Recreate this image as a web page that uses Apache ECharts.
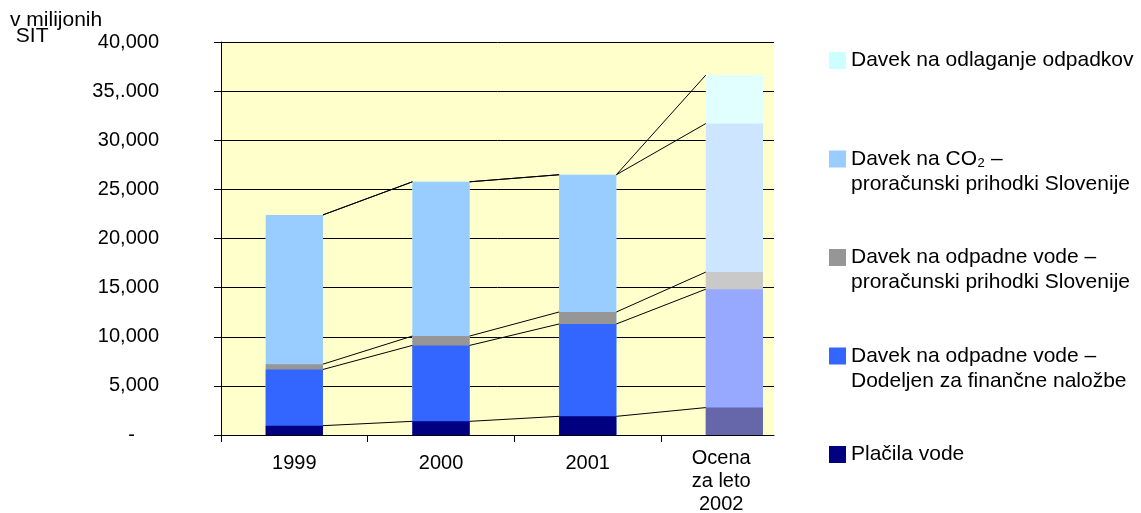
<!DOCTYPE html>
<html>
<head>
<meta charset="utf-8">
<script src="https://cdn.jsdelivr.net/npm/echarts@6/dist/echarts.min.js"></script>
<style>
  html, body { margin: 0; padding: 0; background: #fff; }
  #chart { width: 1141px; height: 513px; }
</style>
</head>
<body>
<div id="chart"></div>
<script>
// data (millions SIT)
const years = ['1999', '2000', '2001', 'Ocena\nza leto\n2002'];
const placilaVode = [950, 1390, 1900, 2790];
const odpadneFinancne = [5720, 7730, 9400, 12050];
const odpadneProracun = [540, 950, 1220, 1740];
const davekCO2 = [15190, 15700, 13970, 15120];
const odlaganje = [0, 0, 0, 4930];
const yTickLabels = ['-', '5,000', '10,000', '15,000', '20,000', '25,000', '30,000', '35,.000', '40,000'];
const seriesNames = [
  'Plačila vode',
  'Davek na odpadne vode –\nDodeljen za finančne naložbe',
  'Davek na odpadne vode –\nproračunski prihodki Slovenije',
  'Davek na CO₂ –\nproračunski prihodki Slovenije',
  'Davek na odlaganje odpadkov'
];

const FONT = 'Liberation Sans, Arial, sans-serif';
const colors = ['#000080', '#3366ff', '#969696', '#99ccff', '#ccffff'];
// the 2002 estimate is drawn with a lighter, dithered fill
const estimateColors = ['#6666aa', '#97a9ff', '#c9c9c9', '#cde5ff', '#e2ffff'];
const BAR_FRAC = 0.39;

const stackValues = [placilaVode, odpadneFinancne, odpadneProracun, davekCO2, odlaganje];

// running tops of every stack level
const tops = [];
let running = years.map(() => 0);
stackValues.forEach(vals => {
  running = running.map((r, i) => r + vals[i]);
  tops.push(running.slice());
});

// series lines between neighbouring columns
const half = BAR_FRAC / 2;
const connectorLines = [];
tops.forEach(level => {
  for (let i = 0; i < years.length - 1; i++) {
    connectorLines.push([
      { coord: [i + 0.5 + half, level[i]] },
      { coord: [i + 1.5 - half, level[i + 1]] }
    ]);
  }
});

// value x axis does not stack, so each level is a column from 0 to its
// running top, drawn tallest first and overlapped
const barSeries = [];
for (let k = stackValues.length - 1; k >= 0; k--) {
  barSeries.push({
    name: seriesNames[k],
    type: 'bar',
    barWidth: (BAR_FRAC * 100) + '%',
    barGap: '-100%',
    itemStyle: { color: colors[k] },
    data: tops[k].map((v, i) => {
      const item = { value: [i + 0.5, v] };
      if (i === years.length - 1) item.itemStyle = { color: estimateColors[k] };
      return item;
    })
  });
}

const chart = echarts.init(document.getElementById('chart'));
chart.setOption({
  animation: false,
  title: {
    text: 'v milijonih\n SIT',
    left: 10,
    top: 12,
    padding: 0,
    textStyle: { fontFamily: FONT, fontSize: 21, fontWeight: 'normal', lineHeight: 16, color: '#000' }
  },
  legend: {
    orient: 'vertical',
    left: 829,
    top: 23,
    padding: 0,
    itemGap: 23.5,
    itemWidth: 17,
    itemHeight: 17,
    icon: 'rect',
    selectedMode: false,
    data: seriesNames.slice().reverse(),
    formatter: name => name.indexOf('\n') >= 0 ? '\n' + name : '\n' + name + '\n',
    textStyle: { fontFamily: FONT, fontSize: 21, lineHeight: 25, color: '#000' }
  },
  grid: {
    left: 221,
    right: 367,
    top: 42,
    bottom: 78,
    outerBoundsMode: 'none',
    containLabel: false,
    show: true,
    backgroundColor: '#ffffcc',
    borderWidth: 0
  },
  xAxis: {
    type: 'value',
    min: 0,
    max: 3.77,
    axisLine: { show: true, lineStyle: { color: '#000' } },
    axisTick: { show: true, length: 7, customValues: [0, 1, 2, 3], lineStyle: { color: '#000' } },
    splitLine: { show: false },
    axisLabel: {
      customValues: [0.5, 1.5, 2.5, 3.41],
      formatter: v => {
        const s = years[Math.floor(v)];
        return s.indexOf('\n') >= 0 ? s : '{one|' + s + '}';
      },
      margin: 12,
      fontFamily: FONT,
      fontSize: 20,
      lineHeight: 23,
      color: '#000',
      rich: { one: { fontFamily: FONT, fontSize: 20, lineHeight: 23, padding: [10, 0, 0, 0] } }
    }
  },
  yAxis: {
    type: 'value',
    min: 0,
    max: 40000,
    interval: 5000,
    axisLine: { show: true, lineStyle: { color: '#000' } },
    axisTick: { show: true, length: 7, lineStyle: { color: '#000' } },
    splitLine: { show: true, lineStyle: { color: '#000', width: 1 } },
    axisLabel: {
      margin: 62,
      fontFamily: FONT,
      fontSize: 20,
      color: '#000',
      formatter: v => {
        const s = yTickLabels[Math.round(v / 5000)];
        return v === 0 ? '{dash|' + s + '}' : s;
      },
      rich: { dash: { fontFamily: FONT, fontSize: 20, padding: [0, 24, 0, 0] } }
    }
  },
  series: barSeries.concat([{
    name: 'series lines',
    type: 'line',
    data: [],
    silent: true,
    markLine: {
      silent: true,
      symbol: ['none', 'none'],
      label: { show: false },
      lineStyle: { color: '#000', width: 1, type: 'solid' },
      data: connectorLines
    }
  }])
});
</script>
</body>
</html>
